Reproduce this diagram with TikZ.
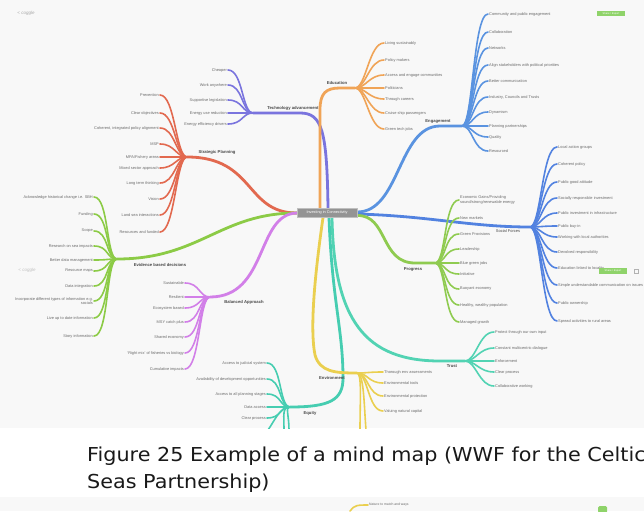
\documentclass[tikz,border=0pt]{standalone}
\usepackage{fontspec}
\usepackage{graphicx}
\setmainfont{Liberation Sans}
\newfontfamily\capfont{DejaVu Sans}
\usetikzlibrary{calc,backgrounds}
\definecolor{cRed}{HTML}{E2694F}
\definecolor{cTech}{HTML}{7A74DE}
\definecolor{cEdu}{HTML}{F0A457}
\definecolor{cEng}{HTML}{5A93E0}
\definecolor{cSoc}{HTML}{5282E0}
\definecolor{cProg}{HTML}{8FCB50}
\definecolor{cEvid}{HTML}{8CCB46}
\definecolor{cBal}{HTML}{D27FE8}
\definecolor{cTrust}{HTML}{52D3B3}
\definecolor{cEq}{HTML}{46CDB1}
\definecolor{cEnv}{HTML}{EACF4F}
\definecolor{cBtn}{HTML}{8FD36A}
\definecolor{panel}{HTML}{F8F8F8}
\definecolor{leafgray}{HTML}{6A6A6A}
\tikzset{
  leaf/.style={font=\fontsize{3.9}{4.4}\selectfont, text=leafgray, inner sep=1pt},
  leafL/.style={leaf, anchor=east, align=right},
  leafR/.style={leaf, anchor=west, align=left},
  tag/.style={font=\bfseries\fontsize{4.2}{5}\selectfont, text=black!72, inner sep=0.5pt},
  twig/.style={line width=1.6pt, line cap=round},
  limb/.style={line width=2.8pt, line cap=round},
  btn/.style={fill=cBtn, text=white, font=\fontsize{2.6}{3}\selectfont, minimum width=28pt, minimum height=5.5pt, inner sep=0pt},
  logo/.style={font=\itshape\fontsize{4.5}{5}\selectfont, text=black!35, inner sep=0pt},
  captext/.style={anchor=base west, inner sep=0, font=\capfont\fontsize{19.2}{27}\selectfont, text=black!90},
}
\begin{document}
\begin{tikzpicture}[x=1pt,y=-1pt]
\useasboundingbox (0,0) rectangle (644,511);
\fill[panel] (0,0) rectangle (644,428);
\fill[panel] (0,497) rectangle (644,511);

\begin{scope}
\clip (0,0) rectangle (644,428);

% central topic
\node[fill=black!42, draw=black!25, text=white, font=\fontsize{3.8}{4}\selectfont,
      minimum width=60pt, minimum height=9pt, inner sep=1pt] (core) at (327,213) {Investing in Connectivity};

% ---------- Strategic Planning ----------
\coordinate (spH) at (187,157);
\node[tag] (spT) at (217,152) {Strategic Planning};
\foreach \yy/\tx [count=\i] in {95/Prevention,113/Clear objectives,128/{Coherent, integrated policy alignment},144/MSP,157/{MPA/Fishery areas},168/Mixed sector approach,183/Long term thinking,199/Vision,215/Land sea interactions,232/Resources and funded}{
  \node[leafL] (sp\i) at (160,\yy) {\tx};
  \draw[twig,cRed] (sp\i.east) .. controls +(15,0) and +(-11,0) .. (spH);
}
\draw[limb,cRed] (spH) .. controls (255,157) and (245,213) .. (core.west);

% ---------- Technology advancement ----------
\coordinate (tkH) at (253,113);
\node[tag] (tkT) at (293,108) {Technology advancement};
\foreach \yy/\tx [count=\i] in {70/Cheaper,85/Work anywhere,100/Supportive legislation,113/Energy use reduction,124/Energy efficiency drivers}{
  \node[leafL] (tk\i) at (228,\yy) {\tx};
  \draw[twig,cTech] (tk\i.east) .. controls +(15,0) and +(-11,0) .. (tkH);
}
\draw[limb,cTech] (tkH) -- (300,113) .. controls (322,113) and (327,130) .. ($(core.north)+(1,0)$);

% ---------- Education ----------
\coordinate (edH) at (355,88);
\node[tag] (edT) at (337,83) {Education};
\foreach \yy/\tx [count=\i] in {43/Living sustainably,60/Policy makers,75/Access and engage communities,88/Politicians,99/Through careers,113/Cruise ship passengers,129/Green tech jobs}{
  \node[leafR] (ed\i) at (384,\yy) {\tx};
  \draw[twig,cEdu] (edH) .. controls +(11,0) and +(-15,0) .. (ed\i.west);
}
\draw[limb,cEdu] ($(core.north)+(-7,0)$) -- (320,110) .. controls (320,93) and (326,88) .. (340,88) -- (edH);

% ---------- Engagement ----------
\coordinate (enH) at (462,126);
\node[tag] (enT) at (438,121) {Engagement};
\foreach \yy/\tx [count=\i] in {14/Community and public engagement,32/Collaboration,48/Networks,65/Align stakeholders with political priorities,81/Better communication,97/{Industry, Councils and Trusts},112/Dynamism,126/Planning partnerships,137/Quality,151/Resourced}{
  \node[leafR] (en\i) at (488,\yy) {\tx};
  \draw[twig,cEng] (enH) .. controls +(11,0) and +(-15,0) .. (en\i.west);
}
\draw[limb,cEng] ($(core.east)+(0,-1)$) .. controls (400,212) and (398,126) .. (440,126) -- (enH);

% ---------- Social Forces ----------
\coordinate (soH) at (530,227);
\node[tag,font=\fontsize{4}{5}\selectfont] (soT) at (508,231) {Social Forces};
\foreach \yy/\tx [count=\i] in {147/Local action groups,164/Coherent policy,182/Public good attitude,198/Socially responsible investment,213/Public investment in infrastructure,226/Public buy-in,237/Working with local authorities,252/Devolved responsibility,268/Education linked to locality,285/Simple understandable communication on issues,303/Public ownership,321/Spread activities to rural areas}{
  \node[leafR] (so\i) at (557,\yy) {\tx};
  \draw[twig,cSoc] (soH) .. controls +(11,0) and +(-15,0) .. (so\i.west);
}
\draw[limb,cSoc] ($(core.east)+(0,1)$) .. controls (430,216) and (470,227) .. (soH);

% ---------- Progress ----------
\coordinate (prH) at (435,263);
\node[tag] (prT) at (413,269) {Progress};
\foreach \yy/\tx [count=\i] in {200/{Economic Gains/Providing\\sound/strong/renewable energy},218/New markets,234/Green Provisions,249/Leadership,263/Blue green jobs,274/Initiative,289/Buoyant economy,305/{Healthy, wealthy population},322/Managed growth}{
  \node[leafR] (pr\i) at (459,\yy) {\tx};
  \draw[twig,cProg] (prH) .. controls +(11,0) and +(-15,0) .. (pr\i.west);
}
\draw[limb,cProg] ($(core.east)+(0,2.5)$) .. controls (388,215) and (380,263) .. (415,263) -- (prH);

% ---------- Trust ----------
\coordinate (trH) at (465,361);
\node[tag] (trT) at (452,366) {Trust};
\foreach \yy/\tx [count=\i] in {332/Protect through our own input,348/Constant multicentric dialogue,361/Enforcement,372/Clear process,386/Collaborative working}{
  \node[leafR] (tr\i) at (494,\yy) {\tx};
  \draw[twig,cTrust] (trH) .. controls +(11,0) and +(-15,0) .. (tr\i.west);
}
\draw[limb,cTrust] ($(core.south)+(5,0)$) .. controls (334,320) and (365,361) .. (440,361) -- (trH);

% ---------- Equity ----------
\coordinate (eqH) at (290,407);
\node[tag] (eqT) at (310,413) {Equity};
\foreach \yy/\tx [count=\i] in {363/Access to judicial system,379/Availability of development opportunities,394/Access to all planning stages,407/Data access,418/Clear process}{
  \node[leafL] (eq\i) at (267,\yy) {\tx};
  \draw[twig,cEq] (eq\i.east) .. controls +(15,0) and +(-11,0) .. (eqH);
}
\draw[twig,cEq] (eqH) .. controls (282,407) and (284,415) .. (284,430);
\draw[twig,cEq] (eqH) .. controls (285,407) and (289,415) .. (289,430);
\draw[twig,cEq] (eqH) .. controls (280,407) and (275,420) .. (268,430);
\draw[limb,cEq] ($(core.south)+(2,0)$) .. controls (332,300) and (343,330) .. (343,378) .. controls (343,400) and (330,407) .. (eqH);

% ---------- Environment ----------
\coordinate (evH) at (357,373);
\node[tag] (evT) at (332,378) {Environment};
\foreach \yy/\tx [count=\i] in {372/Thorough env assessments,383/Environmental tools,396/Environmental protection,411/Valuing natural capital}{
  \node[leafR] (ev\i) at (383,\yy) {\tx};
  \draw[twig,cEnv] (evH) .. controls +(11,0) and +(-15,0) .. (ev\i.west);
}
\draw[twig,cEnv] (evH) .. controls (362,373) and (360,400) .. (360,430);
\draw[twig,cEnv] (evH) .. controls (364,373) and (364,405) .. (366,430);
\draw[limb,cEnv] ($(core.south)+(-4,0)$) .. controls (314,280) and (310,330) .. (315,355) .. controls (320,372) and (335,373) .. (evH);

% ---------- Evidence based decisions ----------
\coordinate (ebH) at (117,259);
\node[tag] (ebT) at (160,265) {Evidence based decisions};
\foreach \yy/\tx [count=\i] in {197/Acknowledge historical change i.e. SBH,214/Funding,231/Scope,246/Research on sea impacts,260/Better data management,271/Resource maps,286/Data integration,301/{Incorporate different types of information e.g.\\socials},318/Live up to date information,336/Story information}{
  \node[leafL] (eb\i) at (94,\yy) {\tx};
  \draw[twig,cEvid] (eb\i.east) .. controls +(15,0) and +(-11,0) .. (ebH);
}
\draw[limb,cEvid] (ebH) .. controls (200,259) and (220,213) .. (core.west);

% ---------- Balanced Approach ----------
\coordinate (baH) at (210,297);
\node[tag] (baT) at (244,302) {Balanced Approach};
\foreach \yy/\tx [count=\i] in {283/Sustainable,297/Resilient,308/Ecosystem based,322/MSY catch plus,337/Shared economy,353/{`Right mix' of fisheries vs biology},369/Cumulative impacts}{
  \node[leafL] (ba\i) at (185,\yy) {\tx};
  \draw[twig,cBal] (ba\i.east) .. controls +(15,0) and +(-11,0) .. (baH);
}
\draw[limb,cBal] (baH) .. controls (268,297) and (256,214) .. (core.west);

% bring the central topic to the front
\node[fill=black!42, draw=black!25, text=white, font=\fontsize{3.8}{4}\selectfont,
      minimum width=60pt, minimum height=9pt, inner sep=1pt] (coreTop) at (core) {Investing in Connectivity};

% app chrome
\node[logo] (logoA) at (26,13) {< coggle};
\node[logo, text=black!25] (logoB) at (27,270) {< coggle};
\node[btn] (btnA) at (611,13.5) {Share / Export};
\node[btn] (btnB) at (613,271) {Share / Export};
\node[draw=black!30, line width=0.4pt, minimum size=3.5pt, inner sep=0pt] (boxB) at (636,271) {};
\end{scope}

% next screenshot peeking in below the caption
\coordinate (nxS) at (350,511);
\node[leafR, font=\fontsize{3.4}{4}\selectfont] (nxT) at (368,505) {Nature to match and ways};
\draw[twig,cEnv] (nxS) .. controls (354,505) and (358,505) .. (nxT.west);
\fill[cBtn, rounded corners=1.5pt] (598,513) rectangle (607,506);

% caption
\node[captext] (cap1) at (87,461) {\scalebox{1.08}[1]{Figure 25 Example of a mind map (WWF for the Celtic}};
\node[captext] (cap2) at (87,488) {\scalebox{1.08}[1]{Seas Partnership)}};
\end{tikzpicture}
\end{document}
